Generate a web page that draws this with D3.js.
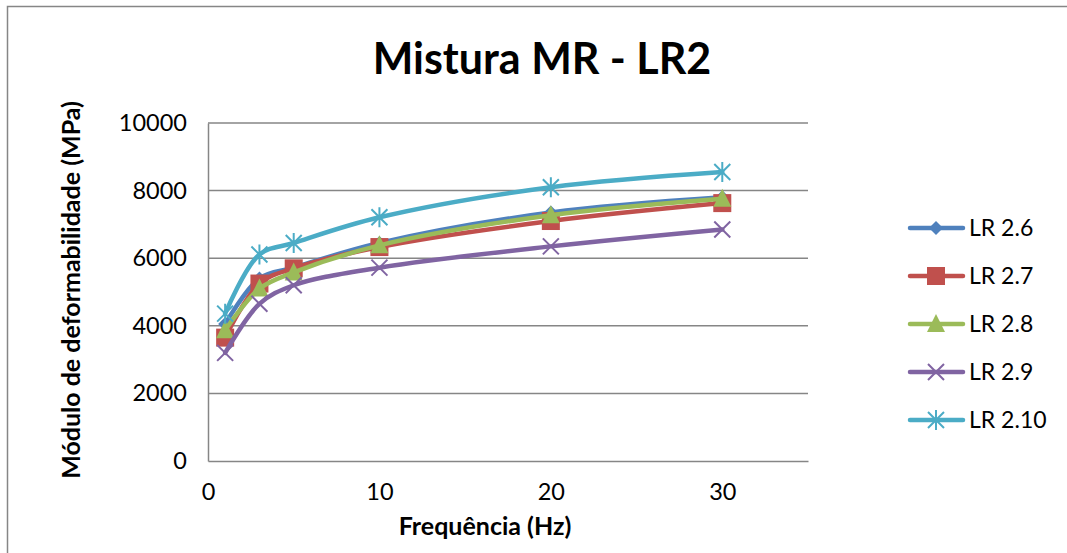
<!DOCTYPE html>
<html>
<head>
<meta charset="utf-8">
<script src="https://cdn.jsdelivr.net/npm/d3@7"></script>
<style>
  html, body { margin: 0; padding: 0; background: #fff; }
  svg { display: block; font-family: Lato, "Open Sans", sans-serif; }
</style>
</head>
<body>
<svg id="chart" width="1067" height="553"></svg>
<script>
// Frequencies (Hz) and deformability modulus (MPa) per mix
const frequencies = [1, 3, 5, 10, 20, 30];
const lr26  = [4050, 5400, 5720, 6450, 7350, 7800];
const lr27  = [3650, 5250, 5700, 6330, 7100, 7630];
const lr28  = [3870, 5100, 5580, 6380, 7270, 7760];
const lr29  = [3200, 4650, 5200, 5720, 6350, 6850];
const lr210 = [4360, 6110, 6450, 7210, 8100, 8550];

const seriesNames = ["LR 2.6", "LR 2.7", "LR 2.8", "LR 2.9", "LR 2.10"];
const seriesValues = [lr26, lr27, lr28, lr29, lr210];
const seriesColors = ["#4F81BD", "#C0504D", "#9BBB59", "#8064A2", "#4BACC6"];
const seriesMarkers = ["diamond", "square", "triangle", "cross", "star"];

const xTicks = [0, 10, 20, 30];
const yTicks = [0, 2000, 4000, 6000, 8000, 10000];

const svg = d3.select("#chart");

// chart frame
svg.append("path")
  .attr("d", "M7.5,560 V6.5 H1070")
  .attr("fill", "none").attr("stroke", "#868686").attr("stroke-width", 1.5);

const plot = { left: 208, right: 808, top: 123, bottom: 461 };
const x = d3.scaleLinear().domain([0, 35]).range([plot.left, plot.right]);
const y = d3.scaleLinear().domain([0, 10000]).range([plot.bottom, plot.top]);

// title
svg.append("text")
  .attr("x", 542).attr("y", 74)
  .attr("text-anchor", "middle")
  .attr("font-size", 43).attr("font-weight", "bold")
  .text("Mistura MR - LR2");

// gridlines
svg.append("g").selectAll("line").data(yTicks.filter(d => d > 0)).join("line")
  .attr("x1", plot.left).attr("x2", plot.right)
  .attr("y1", d => y(d)).attr("y2", d => y(d))
  .attr("stroke", "#868686").attr("stroke-width", 1.5);

// axes
const yAxis = svg.append("g")
  .attr("transform", `translate(${plot.left},0)`)
  .call(d3.axisLeft(y).tickValues(yTicks).tickSize(0).tickPadding(21).tickFormat(d3.format("d")));
yAxis.select(".domain").attr("stroke", "#868686").attr("stroke-width", 1.5);
yAxis.selectAll("text").attr("font-size", 23.5).attr("fill", "#000").attr("font-family", "Lato");

const xAxis = svg.append("g")
  .attr("transform", `translate(0,${plot.bottom})`)
  .call(d3.axisBottom(x).tickValues(xTicks).tickSize(0).tickPadding(22).tickFormat(d3.format("d")));
xAxis.select(".domain").attr("stroke", "#868686").attr("stroke-width", 1.5);
xAxis.selectAll("text").attr("font-size", 23.5).attr("fill", "#000").attr("font-family", "Lato");

// axis titles
svg.append("text")
  .attr("x", 485).attr("y", 535)
  .attr("text-anchor", "middle")
  .attr("font-size", 25).attr("font-weight", "bold")
  .text("Frequência (Hz)");

svg.append("text")
  .attr("transform", "translate(80,290) rotate(-90)")
  .attr("text-anchor", "middle")
  .attr("font-size", 25).attr("font-weight", "bold")
  .text("Módulo de deformabilidade (MPa)");

// marker drawing
function drawMarker(g, type, color) {
  if (type === "diamond") {
    g.append("path").attr("d", "M0,-7 L7,0 L0,7 L-7,0 Z").attr("fill", color);
  } else if (type === "square") {
    g.append("rect").attr("x", -9).attr("y", -9).attr("width", 18).attr("height", 18).attr("fill", color);
  } else if (type === "triangle") {
    g.append("path").attr("d", "M0,-10 L9,8 L-9,8 Z").attr("fill", color);
  } else if (type === "cross") {
    g.append("path").attr("d", "M-8,-8 L8,8 M-8,8 L8,-8")
      .attr("stroke", color).attr("stroke-width", 2).attr("fill", "none");
  } else if (type === "star") {
    g.append("path").attr("d", "M-8,-8 L8,8 M-8,8 L8,-8 M0,-10 L0,10")
      .attr("stroke", color).attr("stroke-width", 2).attr("fill", "none");
  }
}

const line = d3.line()
  .x((d, i) => x(frequencies[i]))
  .y(d => y(d))
  .curve(d3.curveCatmullRom.alpha(0.5));

seriesValues.forEach((vals, s) => {
  const g = svg.append("g");
  g.append("path")
    .attr("d", line(vals))
    .attr("fill", "none")
    .attr("stroke", seriesColors[s])
    .attr("stroke-width", 4.5)
    .attr("stroke-linejoin", "round")
    .attr("stroke-linecap", "round");
  vals.forEach((v, i) => {
    const m = g.append("g").attr("transform", `translate(${x(frequencies[i])},${y(v)})`);
    drawMarker(m, seriesMarkers[s], seriesColors[s]);
  });
});

// legend
const legend = svg.append("g");
seriesNames.forEach((name, s) => {
  const ly = 228 + s * 48;
  const g = legend.append("g");
  g.append("line")
    .attr("x1", 910).attr("x2", 963).attr("y1", ly).attr("y2", ly)
    .attr("stroke", seriesColors[s]).attr("stroke-width", 4.5).attr("stroke-linecap", "round");
  const m = g.append("g").attr("transform", `translate(936,${ly})`);
  drawMarker(m, seriesMarkers[s], seriesColors[s]);
  g.append("text")
    .attr("x", 969).attr("y", ly + 8)
    .attr("font-size", 23)
    .text(name);
});
</script>
</body>
</html>
